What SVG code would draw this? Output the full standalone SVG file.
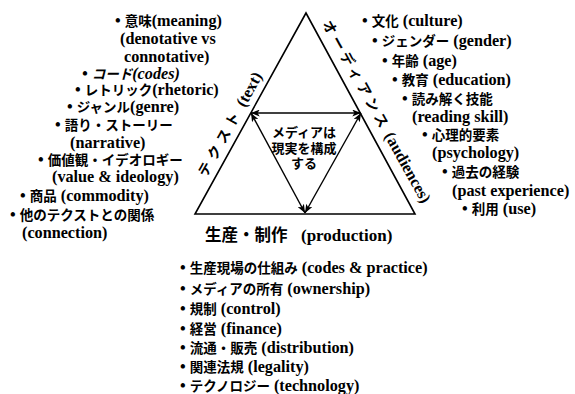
<svg xmlns="http://www.w3.org/2000/svg" width="575" height="394" viewBox="0 0 575 394">
<style>
text { font-family: "Liberation Serif", "Noto Sans CJK JP", serif; font-weight: bold; font-size: 16.2px; fill: #000; }
.j { font-family: "Noto Sans CJK JP", sans-serif; font-size: 13.5px; font-weight: bold; }
.big { font-size: 17px; }
.bj { font-family: "Noto Sans CJK JP", sans-serif; font-size: 16.5px; font-weight: bold; }
.rj { font-family: "Noto Sans CJK JP", sans-serif; font-size: 14px; font-weight: bold; }
.cj { font-family: "Noto Sans CJK JP", sans-serif; font-size: 13px; font-weight: bold; }
.it { font-style: italic; }
.tri { fill: none; stroke: #000; stroke-width: 1.6; stroke-linejoin: miter; }
.arr { fill: none; stroke: #000; stroke-width: 1.4; marker-start: url(#ah); marker-end: url(#ah); }
</style>
<defs>
<marker id="ah" viewBox="0 0 10 8" refX="10" refY="4" markerWidth="10" markerHeight="7" markerUnits="userSpaceOnUse" orient="auto-start-reverse">
<path d="M0,0 L10,4 L0,8 L2.5,4 z" fill="#000"/>
</marker>
</defs>
<rect width="575" height="394" fill="#fff"/>

<g id="triangle">
<polygon class="tri" points="306,13 195,214 415,214"/>
</g>

<g id="connectors">
<line class="arr" x1="251" y1="113" x2="361" y2="113"/>
<line class="arr" x1="251" y1="113" x2="305" y2="213"/>
<line class="arr" x1="361" y1="113" x2="305" y2="213"/>
</g>

<g id="center">
<text x="304" y="137" text-anchor="middle"><tspan class="cj">メディアは</tspan></text>
<text x="304" y="153" text-anchor="middle"><tspan class="cj">現実を構成</tspan></text>
<text x="304" y="168" text-anchor="middle"><tspan class="cj">する</tspan></text>
</g>

<g id="side-text">
<text transform="translate(234.4,126.8) rotate(-61)" text-anchor="middle"><tspan class="rj" letter-spacing="5">テクスト</tspan> (text)</text>
</g>
<g id="side-audiences">
<text transform="translate(372,114) rotate(61)" text-anchor="middle"><tspan class="rj" letter-spacing="4">オーディアンス</tspan> (audiences)</text>
</g>
<g id="side-production">
<text x="205" y="241" class="big"><tspan class="bj">生産・制作</tspan><tspan x="301">(production)</tspan></text>
</g>

<g id="text-list">
<text x="115" y="26">• <tspan class="j">意味</tspan>(meaning)</text>
<text x="120" y="44">(denotative vs</text>
<text x="124" y="62">connotative)</text>
<text x="82" y="79" class="it">• <tspan class="j">コード</tspan>(codes)</text>
<text x="75" y="95">• <tspan class="j">レトリック</tspan>(rhetoric)</text>
<text x="67" y="112">• <tspan class="j">ジャンル</tspan>(genre)</text>
<text x="55" y="130">• <tspan class="j">語り・ストーリー</tspan></text>
<text x="70" y="148">(narrative)</text>
<text x="38" y="165">• <tspan class="j">価値観・イデオロギー</tspan></text>
<text x="52" y="182">(value &amp; ideology)</text>
<text x="20" y="201">• <tspan class="j">商品</tspan> (commodity)</text>
<text x="10" y="220">• <tspan class="j">他のテクストとの関係</tspan></text>
<text x="22" y="238">(connection)</text>
</g>

<g id="audience-list">
<text x="362" y="26">• <tspan class="j">文化</tspan> (culture)</text>
<text x="372" y="46">• <tspan class="j">ジェンダー</tspan> (gender)</text>
<text x="382" y="66">• <tspan class="j">年齢</tspan> (age)</text>
<text x="392" y="85">• <tspan class="j">教育</tspan> (education)</text>
<text x="402" y="104">• <tspan class="j">読み解く技能</tspan></text>
<text x="412" y="122">(reading skill)</text>
<text x="422" y="140">• <tspan class="j">心理的要素</tspan></text>
<text x="432" y="158">(psychology)</text>
<text x="442" y="177">• <tspan class="j">過去の経験</tspan></text>
<text x="452" y="196">(past experience)</text>
<text x="462" y="214">• <tspan class="j">利用</tspan> (use)</text>
</g>

<g id="production-list">
<text x="180" y="273">• <tspan class="j">生産現場の仕組み</tspan> (codes &amp; practice)</text>
<text x="180" y="294">• <tspan class="j">メディアの所有</tspan> (ownership)</text>
<text x="180" y="314">• <tspan class="j">規制</tspan> (control)</text>
<text x="180" y="334">• <tspan class="j">経営</tspan> (finance)</text>
<text x="180" y="353">• <tspan class="j">流通・販売</tspan> (distribution)</text>
<text x="180" y="372">• <tspan class="j">関連法規</tspan> (legality)</text>
<text x="180" y="391">• <tspan class="j">テクノロジー</tspan> (technology)</text>
</g>
</svg>
